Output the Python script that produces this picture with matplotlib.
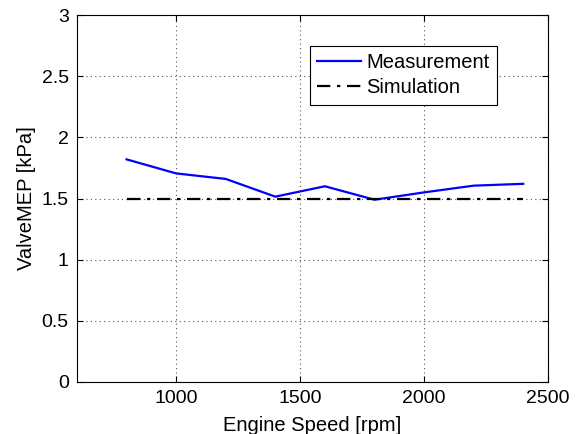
import matplotlib
matplotlib.use("Agg")
import matplotlib.pyplot as plt
from matplotlib.ticker import FixedLocator, FixedFormatter

speed = [800, 1000, 1200, 1400, 1600, 1800, 2000, 2200, 2400]
measurement = [1.82, 1.705, 1.66, 1.515, 1.60, 1.49, 1.55, 1.605, 1.62]
simulation = [1.5, 1.5, 1.5, 1.5, 1.5, 1.5, 1.5, 1.5, 1.5]
xticks = [1000, 1500, 2000, 2500]
yticks = [0, 0.5, 1, 1.5, 2, 2.5, 3]
ytick_labels = ["0", "0.5", "1", "1.5", "2", "2.5", "3"]

plt.rcParams['font.family'] = ['Liberation Sans', 'DejaVu Sans']

fig = plt.figure(figsize=(5.8, 4.34), dpi=100)
ax = fig.add_axes([77/580, 1 - 382/434, (548-77)/580, (382-15)/434])

ax.plot(speed, measurement, color='#0000ff', lw=1.6, label='Measurement')
ax.plot(speed, simulation, color='black', lw=1.6, linestyle=(0, (6, 3, 1.5, 3)), label='Simulation')

ax.set_xlim(600, 2500)
ax.set_ylim(0, 3)
ax.xaxis.set_major_locator(FixedLocator(xticks))
ax.yaxis.set_major_locator(FixedLocator(yticks))
ax.yaxis.set_major_formatter(FixedFormatter(ytick_labels))
ax.tick_params(direction='in', top=True, right=True, labelsize=14, length=4, width=0.8, pad=6)
ax.grid(True, linestyle=(0, (1, 3)), color='#555555', linewidth=0.8)
for s in ax.spines.values():
    s.set_linewidth(0.8)
ax.set_xlabel('Engine Speed [rpm]', fontsize=14.5, labelpad=6)
ax.set_ylabel('ValveMEP [kPa]', fontsize=14.5, labelpad=4)

leg = ax.legend(loc='upper left', bbox_to_anchor=((310-77)/471, 1 - (46-15)/367),
                fontsize=14.5, frameon=True, fancybox=False, edgecolor='black',
                framealpha=1, borderpad=0.35, handlelength=2.2, handletextpad=0.25,
                labelspacing=0.32, borderaxespad=0)
leg.get_frame().set_linewidth(0.8)

fig.savefig('out.png', dpi=100)
